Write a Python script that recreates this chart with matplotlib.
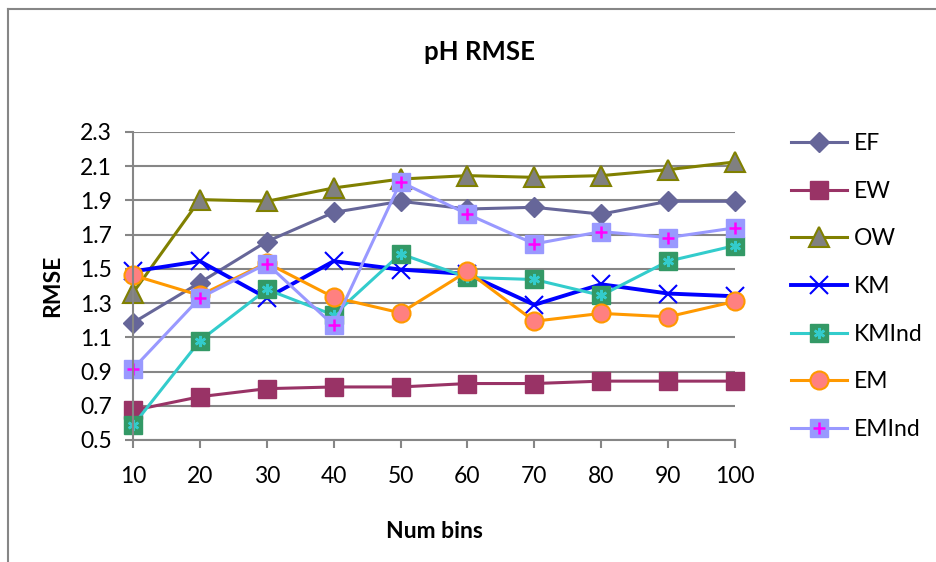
import matplotlib
matplotlib.use("Agg")
from matplotlib import pyplot as plt
from matplotlib.lines import Line2D

plt.rcParams['font.family'] = ['Lato', 'DejaVu Sans']

bins = [10, 20, 30, 40, 50, 60, 70, 80, 90, 100]
ef = [1.185, 1.42, 1.66, 1.83, 1.895, 1.85, 1.86, 1.82, 1.895, 1.895]
ew = [0.673, 0.753, 0.80, 0.81, 0.81, 0.83, 0.83, 0.844, 0.844, 0.844]
ow = [1.36, 1.905, 1.895, 1.973, 2.025, 2.045, 2.035, 2.045, 2.08, 2.125]
km = [1.485, 1.545, 1.33, 1.545, 1.496, 1.47, 1.29, 1.41, 1.356, 1.34]
kmind = [0.585, 1.08, 1.38, 1.23, 1.588, 1.45, 1.438, 1.345, 1.545, 1.636]
em = [1.463, 1.345, 1.535, 1.334, 1.243, 1.486, 1.194, 1.24, 1.22, 1.31]
emind = [0.916, 1.33, 1.531, 1.17, 2.008, 1.82, 1.646, 1.718, 1.683, 1.74]
yticks = [0.5, 0.7, 0.9, 1.1, 1.3, 1.5, 1.7, 1.9, 2.1, 2.3]

fig = plt.figure(figsize=(9.37, 5.62), dpi=100)
ax = fig.add_axes([133/937, 1-440/562, (735-133)/937, (440-132)/562])

gray = '#868686'
lw = 2.2
fs = 16.5

# series
h_ef, = ax.plot(bins, ef, color='#666699', lw=lw, marker='D', ms=10, mfc='#666699', mec='#666699', label='EF')
h_ew, = ax.plot(bins, ew, color='#993366', lw=lw, marker='s', ms=13, mfc='#993366', mec='#993366', label='EW')
h_ow, = ax.plot(bins, ow, color='#808000', lw=lw, marker='^', ms=15, mfc='#808080', mec='#808000', mew=1.5, label='OW')
h_km, = ax.plot(bins, km, color='#0000FF', lw=lw+0.6, marker='x', ms=13, mec='#0000FF', mew=1.5, label='KM')
h_kmi, = ax.plot(bins, kmind, color='#33CCCC', lw=lw, marker='s', ms=13, mfc='#339966', mec='#339966', label='KMInd')
h_kmi2, = ax.plot(bins, kmind, ls='none', marker=(6, 2, 0), ms=8, mec='#33CCCC', mew=1.8)
h_em, = ax.plot(bins, em, color='#FF9900', lw=lw, marker='o', ms=13, mfc='#FF8080', mec='#FF9900', mew=1.5, label='EM')
h_emi, = ax.plot(bins, emind, color='#9999FF', lw=lw, marker='s', ms=13, mfc='#9999FF', mec='#9999FF', label='EMInd')
h_emi2, = ax.plot(bins, emind, ls='none', marker='+', ms=9, mec='#FF00FF', mew=1.8)

for v in ax.lines:
    v.set_clip_on(False)

ax.set_xlim(10, 100)
ax.set_ylim(0.5, 2.3)
ax.set_xticks(bins)
ax.set_yticks(yticks)
ax.set_yticklabels(['%.1f' % t for t in yticks])
ax.yaxis.grid(True, color=gray, lw=1.5)
ax.set_axisbelow(True)
for s in ['top', 'right']:
    ax.spines[s].set_visible(False)
for s in ['left', 'bottom']:
    ax.spines[s].set_color(gray)
    ax.spines[s].set_linewidth(1.5)
ax.tick_params(axis='both', direction='out', length=6, width=1.5, color=gray, labelsize=fs)
ax.tick_params(axis='y', pad=9)
ax.tick_params(axis='x', pad=13)

ax.set_xlabel('Num bins', fontsize=fs, fontweight='bold', labelpad=24)
ax.set_ylabel('RMSE', fontsize=fs, fontweight='bold', labelpad=12)
fig.text(480/937, 1-52/562, 'pH RMSE', ha='center', va='center', fontsize=18.5, fontweight='bold')

handles = [h_ef, h_ew, h_ow, h_km, (h_kmi, h_kmi2), h_em, (h_emi, h_emi2)]
labels = ['EF', 'EW', 'OW', 'KM', 'KMInd', 'EM', 'EMInd']
fig.legend(handles, labels, loc='upper left', bbox_to_anchor=(791/937, 1-133/562),
           frameon=False, fontsize=fs, handlelength=2.45, handletextpad=0.3,
           labelspacing=1.165, numpoints=1, borderaxespad=0, borderpad=0)

# chart area border (top and left visible)
fig.add_artist(Line2D([8/937, 8/937], [0, 1-9/562], color=gray, lw=1.5, transform=fig.transFigure))
fig.add_artist(Line2D([8/937, 1], [1-9/562, 1-9/562], color=gray, lw=1.5, transform=fig.transFigure))

fig.savefig('out.png', dpi=100)
